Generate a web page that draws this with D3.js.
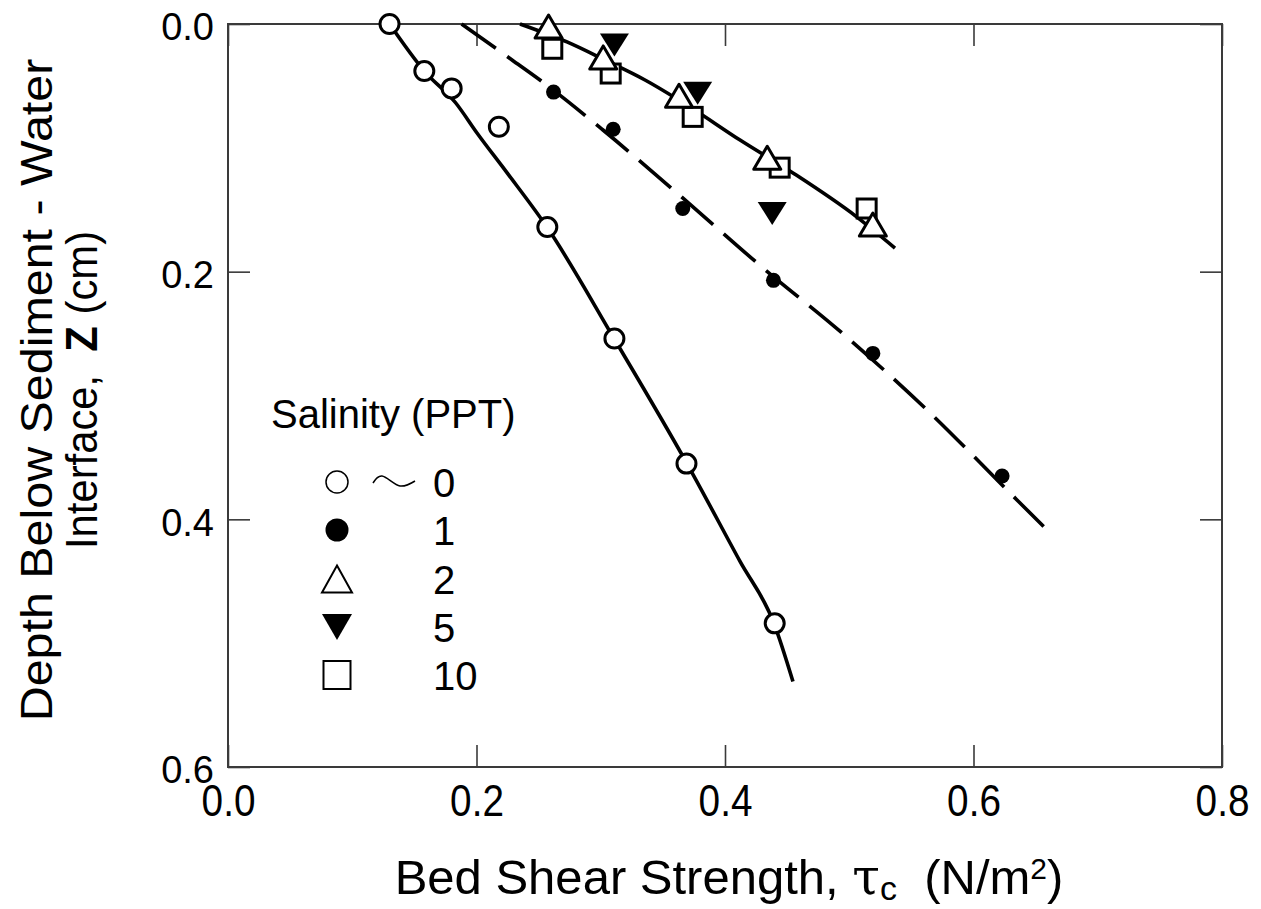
<!DOCTYPE html>
<html><head><meta charset="utf-8">
<script src="https://cdn.jsdelivr.net/npm/d3@7"></script>
<style>
body{margin:0;background:#fff}
svg{display:block}
text{font-family:Arial,"Liberation Sans",Helvetica,sans-serif;fill:#000}
</style>
</head><body>
<svg id="c" width="1261" height="909"></svg>
<script>
// ---------------- data ----------------
const salinityLabels = ["0", "1", "2", "5", "10"];
const xTicks = [0, 0.2, 0.4, 0.6, 0.8];
const yTicks = [0, 0.2, 0.4, 0.6];

// measured points [tau_c (N/m2), depth Z (cm)]
const sal0 = [[0.130,0.000],[0.158,0.038],[0.180,0.052],[0.218,0.083],[0.257,0.164],[0.311,0.254],[0.369,0.355],[0.440,0.484]];
const sal1 = [[0.262,0.055],[0.310,0.085],[0.366,0.149],[0.439,0.207],[0.519,0.266],[0.623,0.365]];
const sal2 = [[0.258,0.002],[0.302,0.027],[0.363,0.058],[0.434,0.108],[0.519,0.162]];
const sal5 = [[0.311,0.017],[0.378,0.056],[0.438,0.153]];
const sal10 = [[0.261,0.020],[0.308,0.040],[0.374,0.075],[0.444,0.116],[0.514,0.149]];

// fitted curves
const fit0 = [[0.130,0.000],[0.158,0.038],[0.1835,0.064],[0.2004,0.088],[0.2245,0.120],[0.2567,0.164],[0.3107,0.254],[0.3694,0.355],[0.4121,0.434],[0.4394,0.484],[0.4547,0.531]];
const fit1 = [[0.188,0.000],[0.2286,0.029],[0.2535,0.047],[0.3018,0.0856],[0.3614,0.1365],[0.4306,0.197],[0.4942,0.2495],[0.5626,0.3117],[0.6294,0.3787],[0.6616,0.411]];
const fitHigh = [[0.235,0.000],[0.2728,0.0145],[0.3034,0.0291],[0.3356,0.0452],[0.3718,0.067],[0.4121,0.0937],[0.4547,0.1203],[0.5062,0.1559],[0.5368,0.1809]];

// ---------------- layout ----------------
const svg = d3.select("#c");
const L = 228, R = 1222, T = 24, B = 767;
const x = d3.scaleLinear().domain([0, 0.8]).range([L, R]);
const y = d3.scaleLinear().domain([0, 0.6]).range([T, B]);
const frameColor = "#3a3a3a";

// axes (inward ticks on all four sides)
const fmt = d3.format(".1f");
const gB = svg.append("g").attr("transform", `translate(0,${B})`)
  .call(d3.axisBottom(x).tickValues(xTicks).tickSize(-22).tickSizeOuter(0).tickPadding(18).tickFormat(fmt));
const gT = svg.append("g").attr("transform", `translate(0,${T})`)
  .call(d3.axisTop(x).tickValues(xTicks).tickSize(-22).tickSizeOuter(0).tickFormat(""));
const gL = svg.append("g").attr("transform", `translate(${L},0)`)
  .call(d3.axisLeft(y).tickValues(yTicks).tickSize(-22).tickSizeOuter(0).tickPadding(14).tickFormat(fmt));
const gR = svg.append("g").attr("transform", `translate(${R},0)`)
  .call(d3.axisRight(y).tickValues(yTicks).tickSize(-22).tickSizeOuter(0).tickFormat(""));
[gB, gT, gL, gR].forEach(g => {
  g.select(".domain").remove();
  g.selectAll(".tick line").attr("stroke", frameColor).attr("stroke-width", 1.6);
  g.attr("font-family", null).attr("font-size", null);
});
gB.selectAll(".tick text").attr("font-size", 44).attr("transform", "scale(0.88,1)").attr("fill", "#000");
gL.selectAll(".tick text").attr("font-size", 38).attr("dy", "0.42em").attr("fill", "#000");

svg.append("rect").attr("x", L).attr("y", T).attr("width", R - L).attr("height", B - T)
  .attr("fill", "none").attr("stroke", frameColor).attr("stroke-width", 2);

// axis titles
const xt = svg.append("text").attr("x", 729).attr("y", 894).attr("text-anchor", "middle").attr("font-size", 49);
xt.append("tspan").text("Bed Shear Strength, ");
xt.append("tspan").attr("font-family", "'DejaVu Serif','Liberation Serif',serif").attr("font-size", 50).text("\u03C4");
xt.append("tspan").attr("font-size", 34).attr("dy", 6).text("c");
xt.append("tspan").attr("dy", -6).text("\u00A0\u00A0(N/m");
xt.append("tspan").attr("font-size", 30).attr("dy", -15).text("2");
xt.append("tspan").attr("dy", 15).text(")");

const yt = svg.append("g").attr("transform", "translate(0,390) rotate(-90)");
yt.append("text").attr("x", 0).attr("y", 52).attr("text-anchor", "middle").attr("font-size", 44)
  .attr("transform", "scale(1.1,1)").text("Depth Below Sediment - Water");
const yt2 = yt.append("text").attr("x", 0).attr("y", 97).attr("text-anchor", "middle").attr("font-size", 44)
  .attr("transform", "scale(0.95,1)");
yt2.append("tspan").text("Interface,\u00A0 ");
yt2.append("tspan").attr("font-weight", "bold").text("Z");
yt2.append("tspan").text(" (cm)");

// ---------------- marks ----------------
const line = d3.line().x(d => x(d[0])).y(d => y(d[1])).curve(d3.curveMonotoneX);
const plot = svg.append("g");
plot.append("path").datum(fit0).attr("d", line).attr("fill", "none").attr("stroke", "#000").attr("stroke-width", 3.6);
plot.append("path").datum(fitHigh).attr("d", line).attr("fill", "none").attr("stroke", "#000").attr("stroke-width", 3.6);
plot.append("path").datum(fit1).attr("d", line).attr("fill", "none").attr("stroke", "#000").attr("stroke-width", 3.6)
  .attr("stroke-dasharray", "42,14");

function triUp(cx, cy, w, h) { return `M${cx},${cy - h/2}L${cx + w/2},${cy + h/2}L${cx - w/2},${cy + h/2}Z`; }
function triDown(cx, cy, w, h) { return `M${cx - w/2},${cy - h/2}L${cx + w/2},${cy - h/2}L${cx},${cy + h/2}Z`; }

plot.selectAll(".m0").data(sal0).join("circle").attr("class", "m0")
  .attr("cx", d => x(d[0])).attr("cy", d => y(d[1])).attr("r", 9.5)
  .attr("fill", "#fff").attr("stroke", "#000").attr("stroke-width", 3);
plot.selectAll(".m1").data(sal1).join("circle").attr("class", "m1")
  .attr("cx", d => x(d[0])).attr("cy", d => y(d[1])).attr("r", 7.5).attr("fill", "#000");
plot.selectAll(".m10").data(sal10).join("rect").attr("class", "m10")
  .attr("x", d => x(d[0]) - 9.5).attr("y", d => y(d[1]) - 9.5).attr("width", 19).attr("height", 19)
  .attr("fill", "#fff").attr("stroke", "#000").attr("stroke-width", 3);
plot.selectAll(".m2").data(sal2).join("path").attr("class", "m2")
  .attr("d", d => triUp(x(d[0]), y(d[1]), 27, 23))
  .attr("fill", "#fff").attr("stroke", "#000").attr("stroke-width", 3).attr("stroke-linejoin", "round");
plot.selectAll(".m5").data(sal5).join("path").attr("class", "m5")
  .attr("d", d => triDown(x(d[0]), y(d[1]), 29, 23)).attr("fill", "#000");

// ---------------- legend ----------------
const lg = svg.append("g");
lg.append("text").attr("x", 271).attr("y", 428).attr("font-size", 40).text("Salinity (PPT)");
const rowsY = [482, 530, 579, 627, 675];
const symX = 337, labX = 433;
salinityLabels.forEach((lab, i) => {
  lg.append("text").attr("x", labX).attr("y", rowsY[i] + 15).attr("font-size", 40).text(lab);
});
lg.append("circle").attr("cx", symX).attr("cy", rowsY[0]).attr("r", 11).attr("fill", "#fff").attr("stroke", "#000").attr("stroke-width", 1.5);
lg.append("circle").attr("cx", symX).attr("cy", rowsY[1]).attr("r", 11.5).attr("fill", "#000");
lg.append("path").attr("d", triUp(symX, rowsY[2], 30, 27)).attr("fill", "#fff").attr("stroke", "#000").attr("stroke-width", 2);
lg.append("path").attr("d", triDown(symX, rowsY[3], 30, 26)).attr("fill", "#000");
lg.append("rect").attr("x", symX - 13.5).attr("y", rowsY[4] - 14).attr("width", 27).attr("height", 28)
  .attr("fill", "#fff").attr("stroke", "#000").attr("stroke-width", 2);
const wave = [[373, 483], [382, 476], [400, 486], [415, 481]];
lg.append("path").datum(wave).attr("d", d3.line().curve(d3.curveCardinal)).attr("fill", "none")
  .attr("stroke", "#000").attr("stroke-width", 1.5);
</script>
</body></html>
